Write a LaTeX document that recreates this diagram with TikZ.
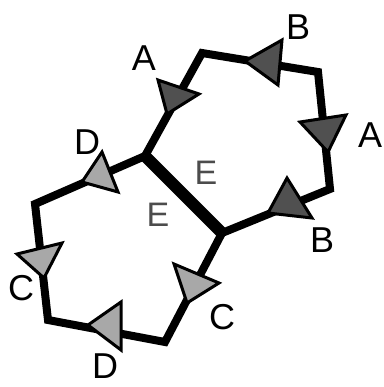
\documentclass[tikz,border=0pt]{standalone}
\usepackage{fontspec}
\setmainfont{Liberation Sans}
\definecolor{cdark}{HTML}{505050}
\definecolor{clight}{HTML}{A8A8A8}
\tikzset{
  every picture/.style={x=1pt, y=-1pt, line join=miter},
  edge/.style={draw=black, line width=8pt},
  shared/.style={draw=black, line width=12pt},
  head/.style={draw=black, fill=#1, line width=3pt},
  head/.default=cdark,
  lbl/.style={font=\fontsize{36}{40}\selectfont, inner sep=0pt},
  elbl/.style={font=\fontsize{34}{40}\selectfont, inner sep=0pt, text=black!70},
}

\begin{document}
\begin{tikzpicture}
  \useasboundingbox (0,0) rectangle (383,387);
  \coordinate (p1) at (145,156);
  \coordinate (p2) at (222,233);
  \coordinate (tl) at (202,53);
  \coordinate (tr) at (318,72);
  \coordinate (r) at (330,189);
  \coordinate (lt) at (35,204);
  \coordinate (lb) at (48,320);
  \coordinate (br) at (165,342);
  \draw[edge] (p1) -- (tl) -- (tr) -- (r) -- (p2);
  \draw[edge] (p1) -- (lt) -- (lb) -- (br) -- (p2);
  \draw[shared] (p1) -- (p2);
  \filldraw[head] (158,80) -- (199,94) -- (167,114) -- cycle;
  \filldraw[head] (282,40) -- (245,61) -- (278,85) -- cycle;
  \filldraw[head] (300,122) -- (346,115) -- (328,152) -- cycle;
  \filldraw[head] (287,178) -- (312,218) -- (268,213) -- cycle;
  \filldraw[head=clight] (102,152) -- (118,192) -- (82,182) -- cycle;
  \filldraw[head=clight] (17,254) -- (62,243) -- (44,278) -- cycle;
  \filldraw[head=clight] (174,264) -- (219,283) -- (187,303) -- cycle;
  \filldraw[head=clight] (121,302) -- (88,325) -- (121,350) -- cycle;
  \node[lbl] (a1) at (144,58) {A};
  \node[lbl] (b1) at (298,27) {B};
  \node[lbl] (a2) at (370,135) {A};
  \node[lbl] (b2) at (322,240) {B};
  \node[elbl] (e1) at (206,173) {E};
  \node[elbl] (e2) at (158,215) {E};
  \node[lbl] (d1) at (87,142) {D};
  \node[lbl] (c1) at (21,288) {C};
  \node[lbl] (c2) at (222,317) {C};
  \node[lbl] (d2) at (105,366) {D};
\end{tikzpicture}
\end{document}
